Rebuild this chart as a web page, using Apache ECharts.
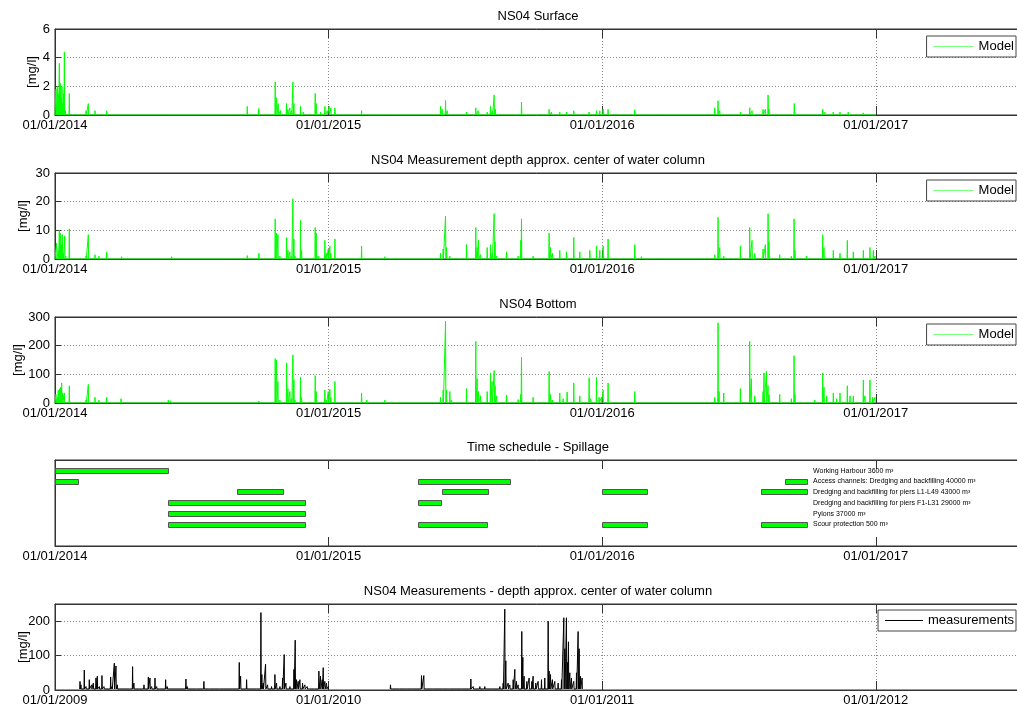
<!DOCTYPE html>
<html>
<head>
<meta charset="utf-8">
<script src="https://cdn.jsdelivr.net/npm/echarts@6/dist/echarts.min.js"></script>
<style>
html, body { margin: 0; padding: 0; background: #fff; }
#chart { width: 1017px; height: 713px; }
</style>
</head>
<body>
<div id="chart"></div>
<script>
// ---- time frame ----
const DAY = 86400000;
const modelStart = Date.UTC(2014, 0, 1);   // model panels start 01/01/2014
const measStart = Date.UTC(2009, 0, 1);    // measurement panel starts 01/01/2009
const spanDays = 1291;
const yearStep = 365.25 * DAY;

// ---- NS04 model, peaks as [day since start, mg/l] ----
const surfacePeaks = [
  [1.3,1.8],[3.1,2.0],[4.4,1.5],[5.8,3.6],[7.1,2.2],[8.5,1.2],[9.3,2.0],[10.7,0.8],[11.6,1.5],[12.5,4.4],
  [13.8,0.3],[19.1,1.5],[25.4,0.1],[41.4,0.3],[44.5,0.8],[53.4,0.3],[60,0.1],[69,0.3],[151,0.05],[240,0.1],
  [256.7,0.6],[272,0.45],[294,2.3],[295.8,1.2],[298,0.8],[301,0.3],[309,0.8],[310.9,0.4],[313.6,0.5],[315.8,0.3],
  [317.6,2.3],[319,0.8],[327.8,0.6],[331.4,0.2],[342.5,0.1],[347.4,1.5],[348.8,0.8],[354.5,0.2],[360.3,0.6],[363.4,0.3],
  [366,0.6],[368.3,0.5],[373.7,0.5],[409.3,0.3],[418,0.1],[442.6,0.05],[514.7,0.6],[517,0.4],[521.4,1.0],[523.6,0.3],
  [549.4,0.2],[561.8,0.5],[565,0.3],[577,0.2],[581.4,0.6],[584,0.3],[586.3,1.4],[588,0.4],[601.9,0.1],[622.8,0.9],
  [659.7,0.4],[662.8,0.2],[673.9,0.2],[682.8,0.2],[692.6,0.3],[713,0.2],[722.9,0.3],[727.3,0.3],[731.8,0.4],[738.4,0.4],
  [774,0.35],[807.4,0.05],[880.8,0.5],[885.2,1.0],[887.5,0.3],[915,0.2],[927.5,0.5],[930.6,0.3],[945.3,0.4],[948.4,0.4],
  [952,1.4],[953.3,0.4],[987,0.8],[1024.9,0.4],[1028,0.2],[1039,0.2],[1048,0.2],[1059,0.2],[1079,0.15],[1087.6,0.1],[1094.3,0.05]
];
const centerPeaks = [
  [2.2,5.5],[4.4,3],[5.8,10],[7.1,9],[8.5,5],[9.8,8.5],[11.1,2],[12.9,8],[14.2,1],[19.1,10.5],
  [20.9,0.5],[41.4,1],[44.5,8.5],[53.4,1.5],[58.7,1],[69,2.5],[89,0.8],[155.7,0.8],[240,0.5],[256.7,1.2],
  [272.2,2],[294,14],[295.8,9],[297.6,8.5],[300.3,1],[309.2,7.5],[311,3],[313.6,2.5],[315.8,1],[317.6,21],
  [319,7],[320.3,1],[327.8,13.5],[329.2,3],[335,0.5],[347.4,11],[348.8,9],[351.4,1],[360.3,6.5],[362.5,2],
  [364.8,3.5],[367,4.5],[368.3,2],[373.7,7],[409.3,4.5],[416,0.5],[424.8,0.5],[440.4,0.8],[449.3,0.3],[514.7,2],
  [518.2,3.5],[521.4,15],[522.7,4],[527.1,1],[549.4,5],[561.8,11],[563.6,4],[565.4,6.5],[568,1.5],[577,4],
  [581.4,5],[583.6,2],[586.3,15.8],[587.6,6],[589.4,1],[602.8,2.5],[618.3,1],[621.9,6.5],[622.8,14],[638.3,1],
  [659.7,9],[661.5,4],[664.1,2],[673.9,3],[682.8,2.5],[692.6,7.5],[700.6,2.5],[714,3],[722.9,4.5],[727.3,3],
  [731.8,4.5],[738.4,7],[774,5],[782.9,0.8],[789.6,0.5],[805.2,0.5],[880.8,1.5],[885.2,14.5],[887.5,4],[892.8,1],
  [915,4.5],[927.5,11],[930.6,6.5],[934.2,2],[945.3,3.5],[948.4,5],[952,15.8],[953.3,6],[967.5,1.5],[983.1,1],
  [986.7,14],[988,3],[1003.1,1],[1024.9,8.5],[1026.7,4],[1039.1,3],[1048,2],[1057.8,6.5],[1065.8,2.5],[1079.2,3],
  [1088,4],[1092.5,3],[1094.7,1]
];
const bottomPeaks = [
  [1.3,30],[3.1,20],[4.4,45],[6.2,50],[7.6,55],[8.9,70],[10.2,35],[12.5,35],[13.8,5],[19.1,60],
  [41.4,10],[44.5,65],[53.4,20],[58.7,10],[69,20],[73.4,5],[88.1,15],[151.2,10],[154.4,8],[184.6,3],
  [256.7,3],[272.2,7],[294,155],[295.8,150],[297.6,75],[300.3,10],[309.2,140],[311,50],[313.6,40],[315.8,15],
  [317.6,168],[319,80],[320.3,10],[327.8,90],[329.2,20],[335,5],[347.4,95],[348.8,40],[351.4,5],[360.3,45],
  [362.5,10],[364.8,40],[367,48],[368.3,20],[373.7,75],[409.3,35],[416,10],[436,5],[440.4,10],[450.6,5],
  [514.7,20],[518.2,45],[521.4,285],[522.7,45],[527.1,40],[529.4,10],[549.4,50],[561.8,215],[563.6,85],[565.4,40],
  [568,25],[577,40],[581.4,105],[583.6,75],[586.3,113],[587.6,60],[589.4,25],[602.8,28],[618.3,12],[621.9,30],
  [622.8,160],[638.3,20],[649.5,5],[659.7,110],[661.5,30],[664.1,10],[673.9,35],[678.4,15],[683.7,38],[692.6,70],
  [700.6,25],[713.1,88],[715.3,15],[722.9,90],[726.4,20],[729.5,20],[731.8,45],[738.4,70],[774,40],[780.7,5],
  [805.2,5],[816.4,3],[880.8,20],[885.2,280],[886.6,40],[892.8,35],[915,50],[927.5,215],[929.7,85],[934.2,25],
  [945.3,40],[946.6,105],[949.8,110],[952,60],[953.3,30],[967.5,30],[983.1,15],[986.7,165],[988,30],[1003.1,5],
  [1014.2,10],[1024.9,105],[1026.7,55],[1030.2,25],[1039.1,35],[1043.6,15],[1048,35],[1057.8,60],[1061.4,25],[1065.8,25],
  [1079.2,80],[1081.4,25],[1088,80],[1091.6,20],[1094.7,20]
];
const modelEndDay = 1096;

// ---- NS04 measurements (centre of water column), [day since 01/01/2009, mg/l] ----
const meas2009 = [
  [33.4,25],[34.7,15],[39.1,58],[41.4,10],[45.8,30],[48.9,15],[51.2,20],[54.7,35],[56.5,40],[59.2,10],
  [62.7,42],[65.4,10],[74.3,38],[76.1,10],[79.2,78],[81.4,70],[83.2,15],[91.2,5],[100.1,5],[103.6,68],
  [105.4,20],[113.4,5],[118.8,15],[124.6,38],[126.8,35],[129,10],[133.5,35],[135.7,10],[140.1,5],[147.7,30],
  [149.9,10],[157.9,5],[174.8,32],[176.6,10],[189.1,3],[198.8,25],[206.9,5],[220.2,3],[238,3],[246,80],
  [247.8,40],[251.3,5],[255.8,30],[259.3,5],[269.1,8],[274.9,225],[276.2,45],[278,20],[281.1,75],[283.8,15],
  [289.1,10],[293.6,45],[295.8,20],[300.3,10],[303.8,35],[306,103],[308.3,20],[313.6,10],[319,60],[320.7,145],
  [322.5,30],[324.7,25],[327,30],[330.5,20],[333.6,15],[336.7,10],[340.3,8],[347,5],[352.3,55],[354.5,40],
  [356.8,30],[358.1,65],[360.3,25],[362.5,20],[364.8,10]
];
const meas2010 = [
  [447.9,15],[451.5,5],[460.4,8],[469.3,5],[478.2,3],[489.3,42],[492.4,42],[495.1,5],[504.9,5],[518.2,5],
  [527.1,3],[542.7,5],[555.2,32],[558.3,10],[567.2,10],[573.8,10],[585,8],[593.9,10],[598.3,20],[600.5,235],
  [601.9,85],[605,20],[607.2,15],[611.7,30],[613.9,60],[616.1,25],[618.3,15],[623.2,170],[624.6,95],[626.3,40],
  [629.9,25],[633,35],[636.6,25],[638.3,40],[641.9,20],[645,25],[649.5,30],[653.9,35],[658.4,200],[659.7,55],
  [661.5,45],[664.1,30],[667.3,25],[671.7,20],[676.2,30],[679.3,210],[680.6,120],[682.8,210],[684.2,80],[685.5,140],
  [687.3,50],[689.5,35],[692.6,25],[696.2,50],[698.4,170],[699.8,120],[701.5,40],[703.7,35]
];
const measFloor = 3;

// ---- Time schedule - Spillage ----
const taskNames = [
  'Working Harbour 3600 m³',
  'Access channels: Dredging and backfilling 40000 m³',
  'Dredging and backfilling for piers L1-L49 43000 m³',
  'Dredging and backfilling for piers F1-L31 29000 m³',
  'Pylons 37000 m³',
  'Scour protection 500 m³'
];
const taskRows = [7, 6, 5, 4, 3, 2];
const spillTask  = [0, 1, 1, 1, 2, 2, 2, 2, 3, 3, 4, 5, 5, 5, 5];
const spillStart = ['2014-01-01','2014-01-01','2015-05-01','2016-09-01','2014-09-01','2015-06-01','2016-01-01','2016-08-01',
                    '2014-06-01','2015-05-01','2014-06-01','2014-06-01','2015-05-01','2016-01-01','2016-08-01'];
const spillEnd   = ['2014-06-01','2014-02-01','2015-09-01','2016-10-01','2014-11-01','2015-08-01','2016-03-01','2016-10-01',
                    '2014-12-01','2015-06-01','2014-12-01','2014-12-01','2015-08-01','2016-03-01','2016-10-01'];
const taskLabelDate = '2016-10-09';

// ---- value axes ----
const yTicks = [
  { max: 6, step: 2 },
  { max: 30, step: 10 },
  { max: 300, step: 100 },
  null,
  { max: 250, step: 100 }
];
const panelTitles = [
  'NS04 Surface',
  'NS04 Measurement depth approx. center of water column',
  'NS04 Bottom',
  'Time schedule - Spillage',
  'NS04 Measurements - depth approx. center of water column'
];
// series ids per panel; legends show the display text
const seriesIds = ['Model surface', 'Model center', 'Model bottom', null, 'measurements'];
const legendText = ['Model', 'Model', 'Model', null, 'measurements'];

// ---- helpers ----
const ms = s => Date.parse(s + 'T00:00:00Z');
function spikeLine(peaks, start, floor, firstDay, lastDay) {
  const pts = [];
  if (firstDay != null) pts.push([start + firstDay * DAY, floor]);
  peaks.forEach(([d, v]) => {
    pts.push([start + (d - 0.4) * DAY, floor], [start + d * DAY, v], [start + (d + 0.4) * DAY, floor]);
  });
  if (lastDay != null) pts.push([start + lastDay * DAY, floor]);
  return pts;
}
// year ticks sit on 1 January; label the nearest year start
function dateLabel(v) {
  const year = new Date(v + 180 * DAY).getUTCFullYear();
  return '01/01/' + year;
}

const FONT = '"Liberation Sans", Arial, sans-serif';
const gridTops = [29, 173, 317, 460, 604];
const gridH = 86;
const gridLeft = 55;
const gridW = 967;
const starts = [modelStart, modelStart, modelStart, modelStart, measStart];
const nameGaps = [16, 25, 30, 0, 25];

const grids = gridTops.map(t => ({
  left: gridLeft, top: t, width: gridW, height: gridH,
  outerBoundsMode: 'none', containLabel: false,
  show: true, borderColor: '#333', borderWidth: 1, backgroundColor: '#fff'
}));

const xAxes = [];
starts.forEach((s, i) => {
  xAxes.push({
    type: 'value', gridIndex: i, position: 'bottom',
    min: s, max: s + spanDays * DAY, interval: yearStep,
    axisLine: { show: true, lineStyle: { color: '#333' } },
    axisTick: { show: true, inside: true, length: 9, lineStyle: { color: '#333' } },
    axisLabel: { show: true, formatter: dateLabel, color: '#000', fontSize: 13, fontFamily: FONT, margin: 4, showMaxLabel: false },
    splitLine: { show: i !== 3, lineStyle: { color: '#8a8a8a', type: [1, 2], width: 1 } }
  });
});
starts.forEach((s, i) => {
  xAxes.push({
    type: 'value', gridIndex: i, position: 'top',
    min: s, max: s + spanDays * DAY, interval: yearStep,
    axisLine: { show: true, lineStyle: { color: '#333' } },
    axisTick: { show: true, inside: true, length: 9, lineStyle: { color: '#333' } },
    axisLabel: { show: false },
    splitLine: { show: false }
  });
});

const yAxes = yTicks.map((t, i) => {
  if (!t) {
    return {
      type: 'value', gridIndex: i, min: 0, max: 8,
      axisLine: { show: true, lineStyle: { color: '#333' } },
      axisTick: { show: false }, axisLabel: { show: false }, splitLine: { show: false }
    };
  }
  return {
    type: 'value', gridIndex: i, min: 0, max: t.max, interval: t.step,
    name: '[mg/l]', nameLocation: 'middle', nameRotate: 90, nameGap: nameGaps[i], nameMoveOverlap: false,
    nameTextStyle: { color: '#000', fontSize: 13, fontFamily: FONT },
    axisLine: { show: true, lineStyle: { color: '#333' } },
    axisTick: { show: true, inside: true, length: 6, lineStyle: { color: '#333' } },
    axisLabel: { color: '#000', fontSize: 13, fontFamily: FONT, margin: 5, showMaxLabel: t.max % t.step === 0 },
    splitLine: { show: true, lineStyle: { color: '#8a8a8a', type: [1, 2], width: 1 } }
  };
});

const titles = panelTitles.map((txt, i) => ({
  text: txt, left: gridLeft + 483, top: gridTops[i] - 19, textAlign: 'center', padding: 0,
  textStyle: { color: '#000', fontSize: 13, fontWeight: 'normal', fontFamily: FONT }
}));

const legendTops = [36, 180, 324, null, 610];
const legendIconColor = ['#7dff7d', '#7dff7d', '#7dff7d', null, '#000'];
const legends = [];
legendTops.forEach((t, i) => {
  if (t == null) return;
  legends.push({
    data: [{ name: seriesIds[i], itemStyle: { color: legendIconColor[i] } }],
    formatter: () => legendText[i],
    right: 1, top: t, orient: 'horizontal',
    icon: 'rect', itemWidth: i === 4 ? 38 : 40, itemHeight: 1, itemGap: 5,
    padding: [4, 2, 4, 7],
    itemStyle: { color: legendIconColor[i] },
    inactiveColor: legendIconColor[i],
    backgroundColor: '#fff', borderColor: '#444', borderWidth: 1, borderRadius: 0,
    selectedMode: false,
    textStyle: { color: '#000', fontSize: 13, fontFamily: FONT }
  });
});

const green = '#00ff00';
const modelLine = (data, idx) => ({
  name: seriesIds[idx], type: 'line', xAxisIndex: idx, yAxisIndex: idx,
  data, symbol: 'none', showSymbol: false, sampling: null,
  lineStyle: { color: green, width: 1 }, itemStyle: { color: '#7dff7d' },
  animation: false, z: 3
});

const measData = spikeLine(meas2009, measStart, measFloor, null, null)
  .concat([[measStart + 400 * DAY, '-']])
  .concat(spikeLine(meas2010, measStart, measFloor, null, null));

const scheduleData = spillTask.map((k, i) => [ms(spillStart[i]), ms(spillEnd[i]), taskRows[k]]);
const labelData = taskNames.map((n, k) => [ms(taskLabelDate), taskRows[k], n]);

const option = {
  backgroundColor: '#fff',
  animation: false,
  title: titles,
  legend: legends,
  grid: grids,
  xAxis: xAxes,
  yAxis: yAxes,
  series: [
    modelLine(spikeLine(surfacePeaks, modelStart, 0, 0, modelEndDay), 0),
    modelLine(spikeLine(centerPeaks, modelStart, 0, 0, modelEndDay), 1),
    modelLine(spikeLine(bottomPeaks, modelStart, 0, 0, modelEndDay), 2),
    {
      type: 'custom', name: 'schedule', xAxisIndex: 3, yAxisIndex: 3,
      data: scheduleData, encode: { x: [0, 1], y: 2 },
      renderItem: (params, api) => {
        const a = api.coord([api.value(0), api.value(2)]);
        const b = api.coord([api.value(1), api.value(2)]);
        const y = Math.round(a[1]) - 2.5;
        return {
          type: 'rect',
          shape: { x: Math.round(a[0]) + 0.5, y: y, width: Math.round(b[0] - a[0]), height: 5 },
          style: { fill: green, stroke: '#555', lineWidth: 1 }
        };
      },
      animation: false, silent: true
    },
    {
      type: 'custom', name: 'taskLabels', xAxisIndex: 3, yAxisIndex: 3,
      data: labelData, encode: { x: 0, y: 1 },
      renderItem: (params, api) => {
        const p = api.coord([api.value(0), api.value(1)]);
        return {
          type: 'text', x: p[0], y: p[1],
          style: { text: taskNames[params.dataIndex], fill: '#000', fontSize: 7, fontFamily: FONT, align: 'left', verticalAlign: 'middle' }
        };
      },
      animation: false, silent: true
    },
    {
      name: seriesIds[4], type: 'line', xAxisIndex: 4, yAxisIndex: 4,
      data: measData, symbol: 'none', showSymbol: false, sampling: null, connectNulls: false,
      lineStyle: { color: '#000', width: 1 }, itemStyle: { color: '#000' },
      animation: false, z: 3
    }
  ]
};

const chart = echarts.init(document.getElementById('chart'), null, { renderer: 'canvas' });
chart.setOption(option);
</script>
</body>
</html>
